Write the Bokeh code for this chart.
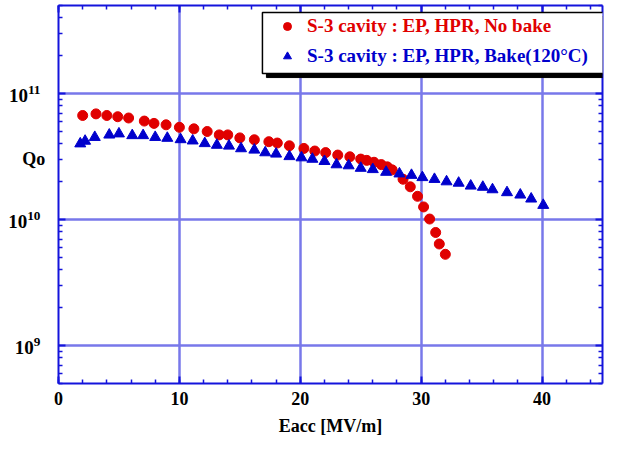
from bokeh.plotting import figure
from bokeh.models import (LinearAxis, LogAxis, FixedTicker, SingleIntervalTicker,
                          Legend, LegendItem, BoxAnnotation, Range1d,
                          CustomJSTickFormatter)
from bokeh.embed import file_html
from bokeh.resources import INLINE

# ---- data ----
nobake_eacc = [2.0, 3.1, 4.0, 4.9, 5.8, 7.1, 7.9, 8.9, 10.0, 11.2, 12.3, 13.3, 14.0,
               15.0, 16.2, 17.4, 18.1, 19.1, 20.3, 21.2, 22.1, 23.1, 24.1, 25.0, 25.5,
               26.1, 26.7, 27.2, 27.6, 28.5, 29.1, 29.7, 30.2, 30.7, 31.2, 31.5, 32.0]
nobake_q0 = [6.7e10, 6.9e10, 6.7e10, 6.55e10, 6.4e10, 6.05e10, 5.8e10, 5.65e10, 5.4e10,
             5.25e10, 5.0e10, 4.7e10, 4.7e10, 4.45e10, 4.3e10, 4.15e10, 4.05e10, 3.85e10,
             3.67e10, 3.5e10, 3.4e10, 3.25e10, 3.15e10, 3.02e10, 2.95e10, 2.85e10,
             2.73e10, 2.62e10, 2.48e10, 2.09e10, 1.82e10, 1.53e10, 1.26e10, 1.01e10,
             7.9e9, 6.4e9, 5.3e9]

bake_eacc = [1.8, 2.2, 3.0, 4.2, 5.0, 6.1, 7.0, 8.0, 9.0, 10.1, 11.1, 12.1, 13.1, 14.1,
             15.1, 16.2, 17.1, 18.0, 19.1, 20.1, 21.0, 22.0, 23.0, 24.0, 25.0, 26.0,
             27.1, 28.2, 29.2, 30.1, 31.1, 32.1, 33.1, 34.1, 35.1, 35.9, 37.1, 38.2,
             39.1, 40.1]
bake_q0 = [4.0e10, 4.2e10, 4.5e10, 4.7e10, 4.8e10, 4.65e10, 4.65e10, 4.5e10, 4.43e10,
           4.32e10, 4.22e10, 4.02e10, 3.9e10, 3.84e10, 3.66e10, 3.57e10, 3.4e10, 3.32e10,
           3.17e10, 3.1e10, 3.02e10, 2.9e10, 2.73e10, 2.68e10, 2.56e10, 2.5e10, 2.38e10,
           2.31e10, 2.25e10, 2.16e10, 2.09e10, 2.0e10, 1.95e10, 1.85e10, 1.81e10,
           1.73e10, 1.64e10, 1.57e10, 1.46e10, 1.3e10]

label_nobake = "S-3 cavity : EP, HPR, No bake"
label_bake = "S-3 cavity : EP, HPR, Bake(120\u00b0C)"
x_title = "Eacc [MV/m]"
y_title = "Qo"
y_major = [1e9, 1e10, 1e11]

FONT = "Liberation Serif"
AXIS_BLUE = "#1414dc"
GRID_BLUE = "#7878ea"
RED = "#e00000"
BLUE = "#0000cc"

p = figure(width=604, height=439, x_range=Range1d(0, 45), y_range=Range1d(5e8, 5e11),
           y_axis_type="log", output_backend="svg", toolbar_location=None,
           min_border_left=58, min_border_right=2, min_border_top=5, min_border_bottom=56)
p.outline_line_color = None
p.background_fill_color = "white"

y_minor = [m * 10.0 ** e for e in range(8, 12) for m in range(2, 10)]
xticker = SingleIntervalTicker(interval=10, num_minor_ticks=5)
yticker = FixedTicker(ticks=y_major, minor_ticks=y_minor)


def style_axis(ax, labels=True):
    ax.axis_line_color = AXIS_BLUE
    ax.axis_line_width = 2
    ax.major_tick_line_color = AXIS_BLUE
    ax.minor_tick_line_color = AXIS_BLUE
    ax.major_tick_line_width = 2
    ax.minor_tick_line_width = 1.5
    ax.major_tick_in = 7
    ax.major_tick_out = 0
    ax.minor_tick_in = 4
    ax.minor_tick_out = 0
    ax.major_label_text_font = FONT
    ax.major_label_text_font_style = "bold"
    ax.major_label_text_color = "black"
    if not labels:
        ax.formatter = CustomJSTickFormatter(code="return ''")
        ax.major_label_standoff = 0
        ax.major_label_text_font_size = "2px"


xa = p.xaxis[0]
xa.ticker = xticker
style_axis(xa)
xa.major_label_text_font_size = "18px"
xa.major_label_standoff = 8
xa.axis_label = x_title
xa.axis_label_text_font = FONT
xa.axis_label_text_font_style = "bold"
xa.axis_label_text_font_size = "18px"
xa.axis_label_text_color = "black"
xa.axis_label_standoff = 8

ya = p.yaxis[0]
ya.ticker = yticker
style_axis(ya)
ya.major_label_text_font_size = "19px"
ya.major_label_standoff = 18
# "Qo" sits horizontally, overlapping the tick-label column and above centre
ya.axis_label = y_title + "\n\n\n"
ya.axis_label_orientation = "horizontal"
ya.axis_label_standoff = -40
ya.axis_label_text_font = FONT
ya.axis_label_text_font_style = "bold"
ya.axis_label_text_font_size = "18px"
ya.axis_label_text_color = "black"

top_ax = LinearAxis(ticker=xticker)
style_axis(top_ax, labels=False)
p.add_layout(top_ax, "above")
right_ax = LogAxis(ticker=yticker)
style_axis(right_ax, labels=False)
p.add_layout(right_ax, "right")

p.xgrid.ticker = xticker
p.ygrid.ticker = yticker
for g in (p.xgrid[0], p.ygrid[0]):
    g.grid_line_color = GRID_BLUE
    g.grid_line_width = 2.5

r_nobake = p.scatter(nobake_eacc, nobake_q0, marker="circle", size=10,
                     fill_color=RED, line_color=RED)
r_bake = p.scatter(bake_eacc, bake_q0, marker="triangle", size=11,
                   fill_color=BLUE, line_color=BLUE)

# legend frame with shadow
shadow = BoxAnnotation(left=17.2, right=45.8, top=4.09e11, bottom=1.34e11,
                       fill_color="black", fill_alpha=1, line_color="black", line_alpha=1)
box = BoxAnnotation(left=16.87, right=45.5, top=4.4e11, bottom=1.44e11,
                    fill_color="white", fill_alpha=1, line_color="black",
                    line_width=1.5, line_alpha=1)
p.add_layout(shadow)
p.add_layout(box)


def make_legend(label, rend, color, loc):
    return Legend(items=[LegendItem(label=label, renderers=[rend])], location=loc,
                  label_text_color=color, label_text_font=FONT,
                  label_text_font_style="bold", label_text_font_size="19px",
                  background_fill_alpha=0, border_line_color=None, padding=0,
                  margin=0, glyph_width=20, glyph_height=20, label_standoff=10,
                  label_height=20, spacing=0)


p.add_layout(make_legend(label_nobake, r_nobake, RED, (219, 346)))
p.add_layout(make_legend(label_bake, r_bake, BLUE, (219, 316)))

open("out.html", "w").write(file_html(p, INLINE))
